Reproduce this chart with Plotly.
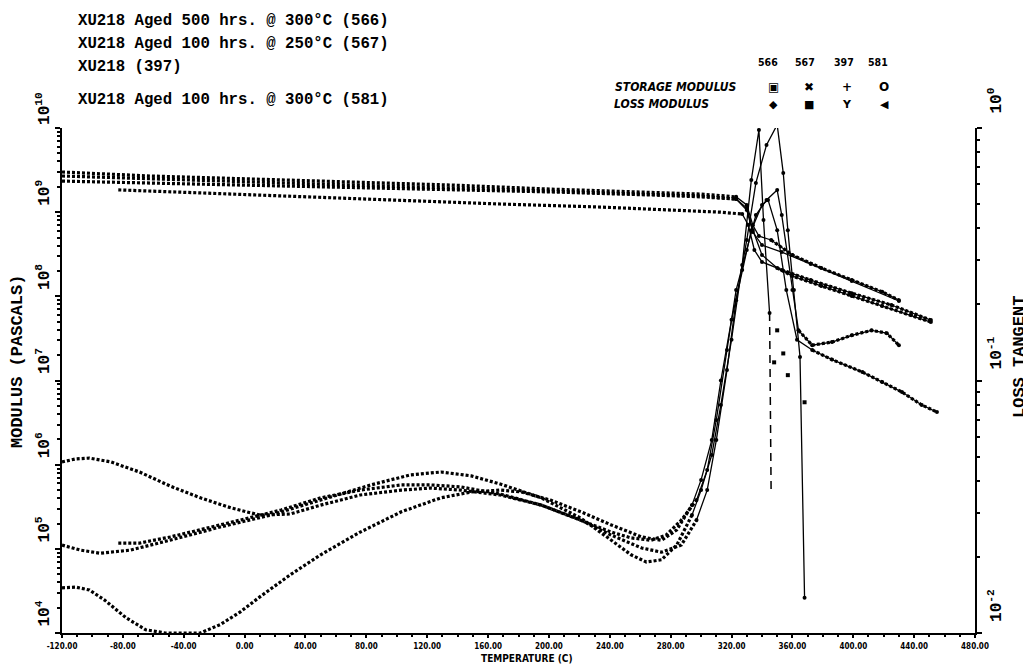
import plotly.graph_objects as go

# ---------------- data ----------------
# Storage modulus (Pa), left axis
t_st_566 = [-120, -62, 4, 70, 136, 201, 267, 300, 323, 330, 334, 338, 346, 360, 379, 399, 419, 430]
st_566 = [3.0e9, 2.69e9, 2.48e9, 2.28e9, 2.10e9, 1.88e9, 1.74e9, 1.64e9, 1.52e9, 1.22e9, 7.0e8, 5.2e8,
          4.67e8, 3.1e8, 2.17e8, 1.56e8, 1.13e8, 9.0e7]
t_st_567 = [-120, -62, 4, 70, 136, 201, 267, 300, 323, 330, 334, 340, 350, 360, 379, 399, 419, 438, 451]
st_567 = [2.69e9, 2.48e9, 2.28e9, 2.10e9, 1.94e9, 1.79e9, 1.64e9, 1.56e9, 1.43e9, 1.12e9, 6.14e8, 3.1e8,
          2.17e8, 1.74e8, 1.33e8, 1.01e8, 7.67e7, 6.0e7, 4.95e7]
t_st_397 = [-120, -62, 4, 70, 136, 201, 267, 300, 323, 330, 334, 340, 353, 372, 399, 430]
st_397 = [2.34e9, 2.22e9, 2.10e9, 1.99e9, 1.88e9, 1.74e9, 1.60e9, 1.52e9, 1.43e9, 1.06e9, 5.81e8, 4.07e8,
          3.36e8, 2.42e8, 1.52e8, 8.8e7]
t_st_581 = [-83, -29, 37, 103, 168, 234, 287, 313, 327, 331, 335, 340, 353, 372, 399, 425, 451]
st_581 = [1.84e9, 1.69e9, 1.52e9, 1.36e9, 1.25e9, 1.15e9, 1.06e9, 1.0e9, 9.5e8, 7.04e8, 3.55e8, 2.56e8,
          2.06e8, 1.56e8, 1.09e8, 7.89e7, 5.23e7]

# Loss tangent, right axis
t_tan_566 = [-120, -108, -95, -75, -49, -16, 17, 50, 83, 109, 129, 149, 168, 195, 221, 241, 254, 264, 274,
             284, 294, 300, 307, 313, 320, 327, 333, 338, 341, 345, 346]
tan_566 = [0.0223, 0.0213, 0.0207, 0.0213, 0.0233, 0.0263, 0.0293, 0.0336, 0.0386, 0.0423, 0.0434, 0.0419,
           0.0389, 0.0343, 0.0285, 0.0233, 0.0204, 0.0191, 0.0195, 0.0223, 0.0293, 0.0368, 0.0507, 0.080,
           0.145, 0.287, 0.622, 0.982, 0.432, 0.185, 0.0368]
# isolated loss-tangent points just above Tg
t_tan_566_post = [348, 350, 354, 357, 368]
tan_566_post = [0.118, 0.158, 0.128, 0.105, 0.082]
t_tan_567 = [-120, -111, -102, -88, -69, -49, -29, -9, 10, 30, 50, 76, 103, 122, 142, 168, 195, 221, 241,
             254, 267, 277, 287, 297, 304, 310, 317, 323, 330, 336, 343, 350, 353, 360, 364, 373, 386, 399,
             412, 422, 430]
tan_567 = [0.0476, 0.0489, 0.0493, 0.0476, 0.0434, 0.0382, 0.0343, 0.0313, 0.0293, 0.0296, 0.0321, 0.0352,
           0.0368, 0.0375, 0.0368, 0.0352, 0.0321, 0.0280, 0.0251, 0.0238, 0.0233, 0.0244, 0.0280, 0.0336,
           0.0442, 0.0698, 0.132, 0.228, 0.329, 0.452, 0.519, 0.568, 0.452, 0.228, 0.158, 0.138, 0.142,
           0.151, 0.158, 0.154, 0.138]
t_tan_397 = [-83, -69, -49, -29, -3, 24, 50, 76, 103, 122, 142, 168, 195, 221, 241, 261, 274, 287, 297,
             304, 310, 317, 323, 330, 336, 343, 350, 354, 357, 361, 365, 368]
tan_397 = [0.0227, 0.0227, 0.0240, 0.0256, 0.0280, 0.0307, 0.0343, 0.0368, 0.0386, 0.0386, 0.0379, 0.0355,
           0.0321, 0.0280, 0.0244, 0.0217, 0.0209, 0.0223, 0.0280, 0.0368, 0.0581, 0.110, 0.208, 0.360,
           0.606, 0.857, 1.03, 0.663, 0.394, 0.228, 0.124, 0.0138]
t_tan_581 = [-120, -111, -102, -92, -78, -65, -52, -29, -16, -3, 10, 30, 50, 76, 103, 129, 149, 168, 182,
             201, 221, 241, 261, 274, 284, 294, 300, 307, 313, 320, 327, 333, 340, 344, 350, 356, 363, 373,
             386, 406, 419, 432, 445, 455]
tan_581 = [0.0151, 0.0152, 0.0148, 0.0135, 0.0115, 0.0103, 0.0100, 0.0100, 0.0108, 0.0121, 0.0139, 0.0170,
           0.0204, 0.0251, 0.0302, 0.0343, 0.0362, 0.0368, 0.0362, 0.0336, 0.0302, 0.0268, 0.0240, 0.0233,
           0.0256, 0.0321, 0.0404, 0.0581, 0.100, 0.174, 0.274, 0.394, 0.496, 0.519, 0.394, 0.228, 0.145,
           0.132, 0.121, 0.108, 0.0986, 0.090, 0.080, 0.075]

x_ticks = [-120, -80, -40, 0, 40, 80, 120, 160, 200, 240, 280, 320, 360, 400, 440, 480]
x_ticktext = ["%.2f" % v for v in x_ticks]
samples = ["566", "567", "397", "581"]
header_lines = [
    "XU218 Aged 500 hrs. @ 300°C (566)",
    "XU218 Aged 100 hrs. @ 250°C (567)",
    "XU218 (397)",
    "XU218 Aged 100 hrs. @ 300°C (581)",
]

# ---------------- figure ----------------
fig = go.Figure()
DOT = "3px,2px"


def add_series(t, v, yaxis, solid_from=None, dash_last=False):
    """Dense part drawn as chains of dots, sparse transition part as thin solid line."""
    n = len(t)
    end_dense = n if solid_from is None else solid_from
    fig.add_trace(go.Scatter(x=t[:end_dense], y=v[:end_dense], yaxis=yaxis, mode="lines",
                             line=dict(color="black", width=3.2, dash=DOT), showlegend=False,
                             hoverinfo="skip"))
    if solid_from is not None:
        stop = n - 1 if dash_last else n
        fig.add_trace(go.Scatter(x=t[solid_from - 1:stop], y=v[solid_from - 1:stop], yaxis=yaxis,
                                 mode="lines+markers", line=dict(color="black", width=1.3),
                                 marker=dict(color="black", size=4), showlegend=False, hoverinfo="skip"))
        if dash_last:
            fig.add_trace(go.Scatter(x=t[n - 2:], y=v[n - 2:], yaxis=yaxis, mode="lines",
                                     line=dict(color="black", width=1.5, dash="8px,6px"),
                                     showlegend=False, hoverinfo="skip"))


add_series(t_st_566, st_566, "y", solid_from=9)
add_series(t_st_566[12:], st_566[12:], "y")
add_series(t_st_567, st_567, "y", solid_from=9)
add_series(t_st_567[12:], st_567[12:], "y")
add_series(t_st_397, st_397, "y", solid_from=9)
add_series(t_st_581, st_581, "y", solid_from=9)
add_series(t_st_581[12:], st_581[12:], "y")

add_series(t_tan_566, tan_566, "y2", solid_from=21, dash_last=True)
fig.add_trace(go.Scatter(x=t_tan_566_post, y=tan_566_post, yaxis="y2", mode="markers",
                         marker=dict(color="black", size=4, symbol="square"), showlegend=False,
                         hoverinfo="skip"))
add_series(t_tan_567, tan_567, "y2", solid_from=24)
add_series(t_tan_567[34:], tan_567[34:], "y2")
add_series(t_tan_397, tan_397, "y2", solid_from=19)
add_series(t_tan_581, tan_581, "y2", solid_from=26)
add_series(t_tan_581[37:], tan_581[37:], "y2")

# page coordinates of the plot frame; the page body adds an 8px offset
OFF = 8
L, R, T, B = 62, 975, 128, 633
W, H = 1031 - OFF, 664 - OFF


def px(x):
    return (x - L) / (R - L)


def py(y):
    return (B - y) / (B - T)


mono = "Liberation Mono"
ann = []
for i, s in enumerate(header_lines):
    ann.append(dict(text=s, x=px(76), y=py([21, 44, 67, 100][i]), xref="paper", yref="paper",
                    xanchor="left", yanchor="middle", showarrow=False,
                    font=dict(family=mono, size=15.7, color="black", weight="bold")))

ann.append(dict(text="MODULUS (PASCALS)", x=px(17), y=py(362), xref="paper", yref="paper",
                xanchor="center", yanchor="middle",
                textangle=-90, showarrow=False, font=dict(family=mono, size=17, color="black",
                                                          weight="bold")))
ann.append(dict(text="LOSS TANGENT", x=px(1019), y=py(357), xref="paper", yref="paper",
                xanchor="center", yanchor="middle",
                textangle=-90, showarrow=False, font=dict(family=mono, size=17, color="black",
                                                          weight="bold")))
ann.append(dict(text="TEMPERATURE (C)", x=px(527), y=py(658), xref="paper", yref="paper",
                xanchor="center", yanchor="middle",
                showarrow=False, font=dict(family="DejaVu Sans Condensed", size=10, color="black",
                                           weight="bold")))

small = dict(family="DejaVu Sans Condensed", size=12, color="black", weight="bold")
ann.append(dict(text="<i>STORAGE MODULUS</i>", x=px(613), y=py(87), xref="paper", yref="paper",
                xanchor="left", yanchor="middle", showarrow=False, font=small))
ann.append(dict(text="<i>LOSS MODULUS</i>", x=px(612), y=py(104), xref="paper", yref="paper",
                xanchor="left", yanchor="middle", showarrow=False, font=small))
head_x = [768, 805, 844, 878]
col_x = [773, 809, 847, 884]
st_sym = ["▣", "✖", "+", "O"]
ls_sym = ["◆", "■", "Y", "◀"]
for i, s in enumerate(samples):
    ann.append(dict(text=s, x=px(head_x[i]), y=py(62), xref="paper", yref="paper", showarrow=False,
                    xanchor="center", yanchor="middle",
                    font=dict(family="DejaVu Sans Condensed", size=10.5, color="black", weight="bold")))
    ann.append(dict(text=st_sym[i], x=px(col_x[i]), y=py(87), xref="paper", yref="paper",
                    xanchor="center", yanchor="middle",
                    showarrow=False, font=dict(family="DejaVu Sans", size=12, color="black",
                                               weight="bold")))
    ann.append(dict(text=ls_sym[i], x=px(col_x[i]), y=py(105), xref="paper", yref="paper",
                    xanchor="center", yanchor="middle",
                    showarrow=False, font=dict(family="DejaVu Sans", size=11, color="black",
                                               weight="bold")))

axis_common = dict(showline=True, linecolor="black", linewidth=2, tickcolor="black",
                   tickwidth=1.5, showgrid=False, zeroline=False, mirror=False,
                   automargin=False)

fig.update_layout(
    width=W, height=H,
    margin=dict(l=L - OFF, r=1031 - R, t=T - OFF, b=664 - B, pad=0),
    paper_bgcolor="white", plot_bgcolor="white",
    annotations=ann,
    xaxis=dict(range=[-120, 480], tickvals=x_ticks, ticktext=x_ticktext, ticks="outside", ticklen=3,
               ticklabelstandoff=1,
               tickfont=dict(family="DejaVu Sans Condensed", size=8, color="black", weight="bold"),
               minor=dict(dtick=10, ticks="outside", ticklen=2, tickcolor="black"),
               **axis_common),
    yaxis=dict(type="log", range=[4, 10], ticks="outside", ticklen=5,
               tickvals=[10 ** k for k in range(4, 11)],
               ticktext=["10<sup>%d</sup>" % k for k in range(4, 11)],
               tickangle=-90, ticklabelshift=-17,
               tickfont=dict(family=mono, size=16, color="black", weight="bold"),
               minor=dict(dtick="D1", ticks="outside", ticklen=3, tickcolor="black"),
               **axis_common),
    yaxis2=dict(type="log", range=[-2, 0], overlaying="y", side="right", ticks="outside", ticklen=5,
                tickvals=[0.01, 0.1, 1],
                ticktext=["10<sup>-2</sup>", "10<sup>-1</sup>", "10<sup>0</sup>"],
                tickangle=-90, ticklabelshift=-25,
                tickfont=dict(family=mono, size=16, color="black", weight="bold"),
                minor=dict(dtick="D1", ticks="outside", ticklen=3, tickcolor="black"),
                **axis_common),
)

fig.write_html("out.html")
